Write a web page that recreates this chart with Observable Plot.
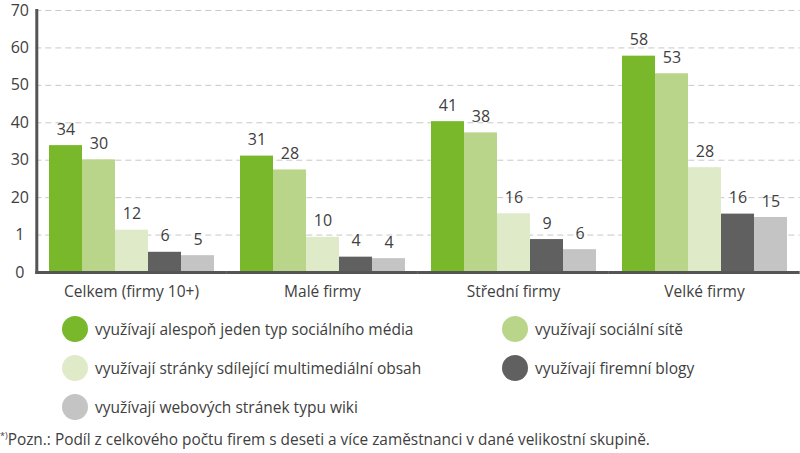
<!DOCTYPE html>
<html>
<head>
<meta charset="utf-8">
<script src="https://cdn.jsdelivr.net/npm/d3@7"></script>
<script src="https://cdn.jsdelivr.net/npm/@observablehq/plot@0.6"></script>
<style>
  html, body { margin: 0; padding: 0; background: #fff; }
  #wrap { position: relative; width: 800px; height: 453px; font-family: "Open Sans", Lato, sans-serif; color: #404040; }
  #chart { position: absolute; left: 0; top: 0; }
  .leg { position: absolute; display: flex; align-items: center; font-size: 15.5px; color: #404040; white-space: nowrap; }
  .leg .dot { width: 26px; height: 26px; border-radius: 50%; margin-right: 7px; flex: none; }
  #note { position: absolute; left: 0; top: 429px; font-size: 15.4px; color: #404040; white-space: nowrap; }
  #note sup { font-size: 9px; vertical-align: 6px; }
</style>
</head>
<body>
<div id="wrap">
  <div id="chart"></div>
  <div id="legend"></div>
  <div id="note"><sup>*)</sup>Pozn.: Podíl z celkového počtu firem s deseti a více zaměstnanci v dané velikostní skupině.</div>
</div>
<script>
const groups = ["Celkem (firmy 10+)", "Malé firmy", "Střední firmy", "Velké firmy"];
const series = [
  "využívají alespoň jeden typ sociálního média",
  "využívají sociální sítě",
  "využívají stránky sdílející multimediální obsah",
  "využívají firemní blogy",
  "využívají webových stránek typu wiki"
];
const colors = ["#78b82a", "#b8d58a", "#deeac8", "#606060", "#c4c4c4"];
// bar heights per group, in series order
const valCelkem  = [33.9, 30.1, 11.3, 5.4, 4.5];
const valMale    = [31.1, 27.4, 9.4, 4.1, 3.7];
const valStredni = [40.3, 37.3, 15.7, 8.8, 6.1];
const valVelke   = [57.8, 53.1, 28.0, 15.6, 14.7];
// printed value labels
const lblCelkem  = ["34", "30", "12", "6", "5"];
const lblMale    = ["31", "28", "10", "4", "4"];
const lblStredni = ["41", "38", "16", "9", "6"];
const lblVelke   = ["58", "53", "28", "16", "15"];
const yTicks = [0, 10, 20, 30, 40, 50, 60, 70];
const yTickLabels = ["0", "1", "20", "30", "40", "50", "60", "70"];

const vals = [valCelkem, valMale, valStredni, valVelke];
const lbls = [lblCelkem, lblMale, lblStredni, lblVelke];
const rows = [];
groups.forEach((g, gi) => series.forEach((s, si) => rows.push({group: g, series: s, value: vals[gi][si], label: lbls[gi][si]})));

// layout of the facet band scale
const W = 800, ML = 34, MR = 0;
const padIn = 0.132, padOut = 0.061;
const step = (W - ML - MR) / (groups.length - padIn + 2 * padOut);
const halfGap = padIn * step / 2;
const outerOff = padOut * step;
const font = "'Open Sans', Lato, sans-serif";

const chart = Plot.plot({
  width: W,
  height: 305,
  marginLeft: ML,
  marginRight: MR,
  marginTop: 10,
  marginBottom: 33,
  style: {fontFamily: font, color: "#404040", background: "transparent"},
  fx: {domain: groups, paddingInner: padIn, paddingOuter: padOut, label: null},
  x: {domain: series, padding: 0, axis: null},
  y: {domain: [0, 70], axis: null},
  color: {domain: series, range: colors},
  marks: [
    Plot.ruleY(yTicks.slice(1), {stroke: "#c8c8c8", strokeWidth: 1, strokeDasharray: "6,4", insetLeft: -halfGap, insetRight: -halfGap}),
    Plot.barY(rows, {fx: "group", x: "series", y: "value", fill: "series"}),
    Plot.text(rows, {fx: "group", x: "series", y: "value", text: "label", dy: -16, fontSize: 16, fill: "#404040"}),
    Plot.ruleY([0], {stroke: "#555", strokeWidth: 3, insetLeft: -halfGap, insetRight: -halfGap}),
    Plot.frame({fx: [groups[0]], anchor: "left", stroke: "#555", strokeWidth: 3, dx: -outerOff}),
    Plot.text(yTicks, {fx: () => groups[0], y: d => d, text: (d, i) => yTickLabels[i], frameAnchor: "left", dx: -outerOff - 17, textAnchor: "middle", fontSize: 16, fill: "#404040"}),
    Plot.axisFx({anchor: "bottom", tickSize: 0, tickPadding: 13, fontSize: 15.5, label: null, color: "#404040"})
  ]
});
document.getElementById("chart").appendChild(chart);

// legend
const legPos = [[62, 316], [502, 316], [62, 355], [502, 355], [62, 394]];
const legend = document.getElementById("legend");
series.forEach((s, i) => {
  const d = document.createElement("div");
  d.className = "leg";
  d.style.left = legPos[i][0] + "px";
  d.style.top = legPos[i][1] + "px";
  d.innerHTML = `<span class="dot" style="background:${colors[i]}"></span><span>${s}</span>`;
  legend.appendChild(d);
});
</script>
</body>
</html>
